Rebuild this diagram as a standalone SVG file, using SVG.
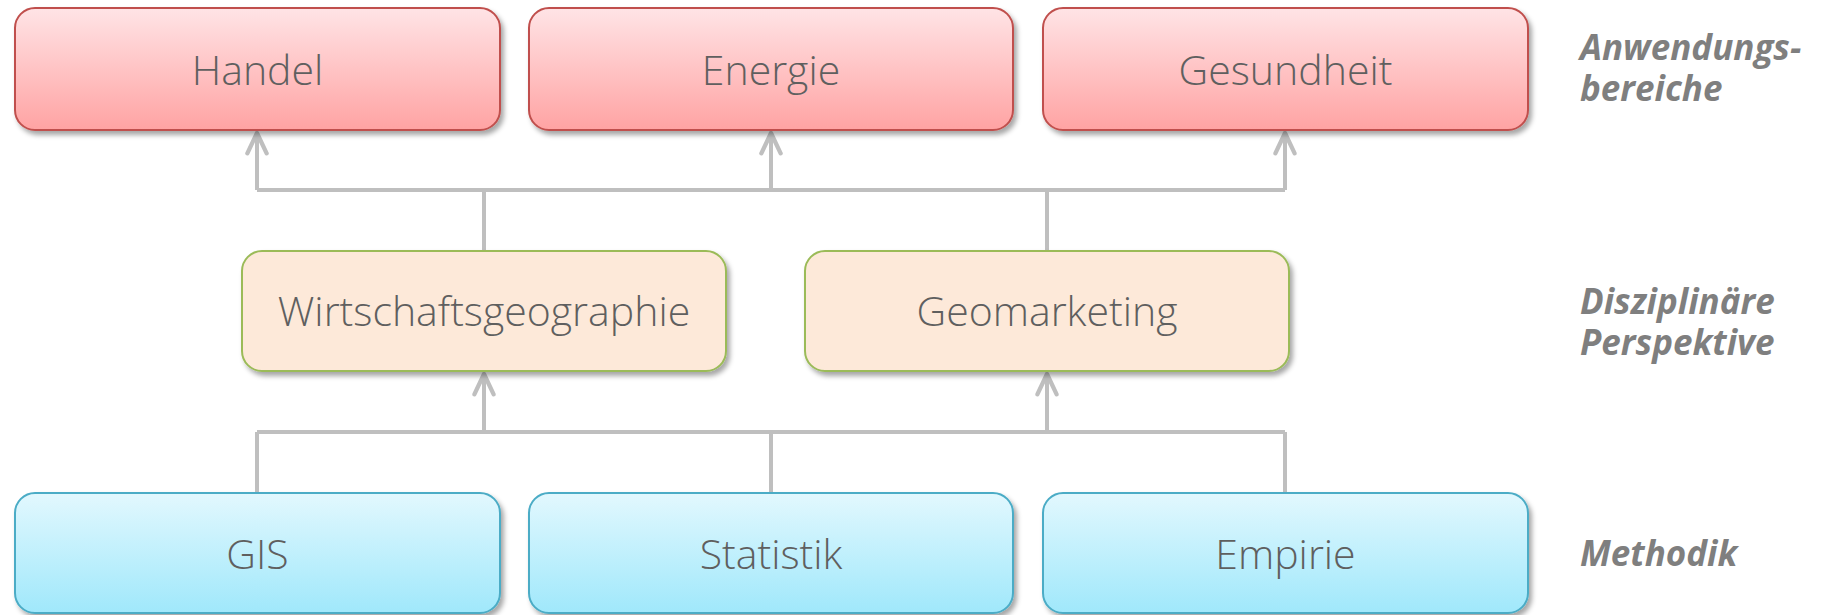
<svg xmlns="http://www.w3.org/2000/svg" width="1834" height="615" viewBox="0 0 1834 615">
<defs>
<linearGradient id="gRed" x1="0" y1="0" x2="0" y2="1">
<stop offset="0" stop-color="#ffe4e6"/>
<stop offset="1" stop-color="#ffa3a3"/>
</linearGradient>
<linearGradient id="gBlue" x1="0" y1="0" x2="0" y2="1">
<stop offset="0" stop-color="#e2f8fe"/>
<stop offset="1" stop-color="#a0e8fb"/>
</linearGradient>
<filter id="shadow" x="-5%" y="-10%" width="115%" height="130%">
<feDropShadow dx="3" dy="4" stdDeviation="2.5" flood-color="#000" flood-opacity="0.35"/>
</filter>
<marker id="arrow" markerUnits="userSpaceOnUse" markerWidth="30" markerHeight="30" viewBox="-24 -14 28 28" refX="0" refY="0" orient="auto">
<path d="M -19 -9 L 0 0 L -19 9" fill="none" stroke="#bfbfbf" stroke-width="4" stroke-linecap="round" stroke-linejoin="round"/>
</marker>
</defs>
<style>
.box-red{fill:url(#gRed);stroke:#c0504d;stroke-width:2;filter:url(#shadow)}
.box-org{fill:#fde9d9;stroke:#9bbb59;stroke-width:2;filter:url(#shadow)}
.box-blue{fill:url(#gBlue);stroke:#4bacc6;stroke-width:2;filter:url(#shadow)}
.lbl{font-family:"Open Sans","Noto Sans","Liberation Sans",sans-serif;font-weight:300;font-size:41px;fill:#5f5f5f;text-anchor:middle}
.side{font-family:"Open Sans","Noto Sans","Liberation Sans",sans-serif;font-weight:700;font-style:italic;font-size:35px;fill:#7f7f7f}
.conn{fill:none;stroke:#bfbfbf;stroke-width:4}
</style>
<g id="connectors">
<path class="conn" d="M 257 190 L 1285 190"/>
<path class="conn" d="M 257 190 L 257 133" marker-end="url(#arrow)"/>
<path class="conn" d="M 771 190 L 771 133" marker-end="url(#arrow)"/>
<path class="conn" d="M 1285 190 L 1285 133" marker-end="url(#arrow)"/>
<path class="conn" d="M 484 251 L 484 190"/>
<path class="conn" d="M 1047 251 L 1047 190"/>
<path class="conn" d="M 257 432 L 1285 432"/>
<path class="conn" d="M 257 493 L 257 432"/>
<path class="conn" d="M 771 493 L 771 432"/>
<path class="conn" d="M 1285 493 L 1285 432"/>
<path class="conn" d="M 484 432 L 484 374" marker-end="url(#arrow)"/>
<path class="conn" d="M 1047 432 L 1047 374" marker-end="url(#arrow)"/>
</g>
<g id="handel"><rect class="box-red" x="15" y="8" width="485" height="122" rx="20"/><text class="lbl" x="257.5" y="85">Handel</text></g>
<g id="energie"><rect class="box-red" x="529" y="8" width="484" height="122" rx="20"/><text class="lbl" x="771" y="85">Energie</text></g>
<g id="gesundheit"><rect class="box-red" x="1043" y="8" width="485" height="122" rx="20"/><text class="lbl" x="1285.5" y="85">Gesundheit</text></g>
<g id="wirtschaftsgeographie"><rect class="box-org" x="242" y="251" width="484" height="120" rx="20"/><text class="lbl" x="484" y="326">Wirtschaftsgeographie</text></g>
<g id="geomarketing"><rect class="box-org" x="805" y="251" width="484" height="120" rx="20"/><text class="lbl" x="1047" y="326">Geomarketing</text></g>
<g id="gis"><rect class="box-blue" x="15" y="493" width="485" height="120" rx="20"/><text class="lbl" x="257.5" y="569">GIS</text></g>
<g id="statistik"><rect class="box-blue" x="529" y="493" width="484" height="120" rx="20"/><text class="lbl" x="771" y="569">Statistik</text></g>
<g id="empirie"><rect class="box-blue" x="1043" y="493" width="485" height="120" rx="20"/><text class="lbl" x="1285.5" y="569">Empirie</text></g>
<g id="label-anwendungsbereiche"><text class="side" x="1580" y="60">Anwendungs-</text><text class="side" x="1580" y="101">bereiche</text></g>
<g id="label-disziplinaere"><text class="side" x="1580" y="314">Disziplinäre</text><text class="side" x="1580" y="355">Perspektive</text></g>
<g id="label-methodik"><text class="side" x="1580" y="566">Methodik</text></g>
</svg>
